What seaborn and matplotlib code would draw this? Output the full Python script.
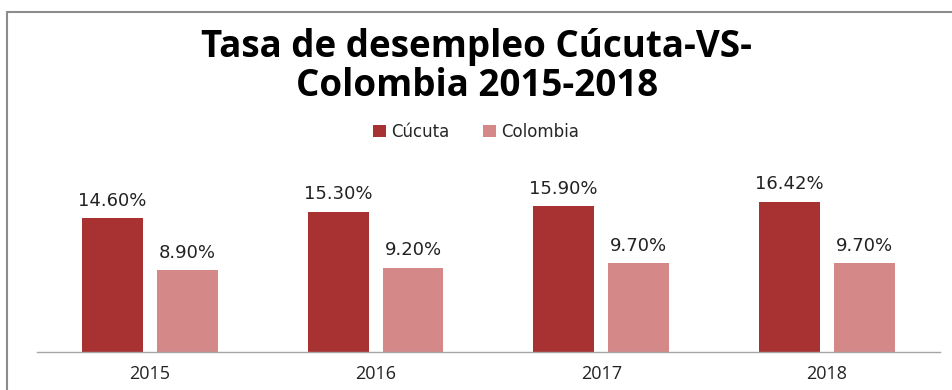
import pandas as pd
import seaborn as sns
import matplotlib.pyplot as plt
from matplotlib.patches import Patch
from matplotlib.lines import Line2D

# Data
years = ["2015", "2016", "2017", "2018"]
cucuta = [14.60, 15.30, 15.90, 16.42]
colombia = [8.90, 9.20, 9.70, 9.70]
series = ["Cúcuta", "Colombia"]
colors = {"Cúcuta": "#a83131", "Colombia": "#d48888"}

df = pd.DataFrame({
    "year": years * 2,
    "rate": cucuta + colombia,
    "serie": [series[0]] * len(years) + [series[1]] * len(years),
})

sns.set_style("white")
plt.rcParams["font.family"] = ["Open Sans", "DejaVu Sans"]

fig = plt.figure(figsize=(9.52, 3.9), dpi=100)
ax = fig.add_axes([0.039, 0.0974, 0.948, 0.47])

sns.barplot(data=df, x="year", y="rate", hue="serie", palette=colors,
            saturation=1, width=0.664, gap=0.187, ax=ax, legend=False,
            edgecolor="none")

# data labels
for cont in ax.containers:
    ax.bar_label(cont, labels=[f"{v:.2f}%" for v in cont.datavalues],
                 padding=6, fontsize=13, color="#222222", family="DejaVu Sans")

ax.set_ylim(0, 20)
ax.set_xlim(-0.5, 3.5)
ax.set_xlabel("")
ax.set_ylabel("")
ax.set_yticks([])
for s in ["left", "right", "top"]:
    ax.spines[s].set_visible(False)
ax.spines["bottom"].set_color("#a6a6a6")
ax.spines["bottom"].set_linewidth(1)
ax.tick_params(axis="x", length=0, labelsize=13, pad=9, colors="#222222")

# title
fig.text(0.501, 0.83, "Tasa de desempleo Cúcuta-VS-\nColombia 2015-2018",
         ha="center", va="center", fontsize=26.5, fontweight="bold",
         linespacing=1.05, color="black")

# legend
handles = [Patch(facecolor=colors[s], edgecolor="none", label=s) for s in series]
fig.legend(handles=handles, loc="center", bbox_to_anchor=(0.5, 0.662),
           ncol=2, frameon=False, handlelength=0.8,
           handleheight=0.8, handletextpad=0.3, prop={"family": "DejaVu Sans", "size": 12},
           columnspacing=2.0)

# outer chart border (left and top)
fig.add_artist(Line2D([0.0075, 0.0075], [0, 0.968], color="#8c8c8c", lw=1.5,
                      transform=fig.transFigure))
fig.add_artist(Line2D([0.0075, 1], [0.968, 0.968], color="#8c8c8c", lw=1.5,
                      transform=fig.transFigure))

fig.savefig("out.png", dpi=100)
